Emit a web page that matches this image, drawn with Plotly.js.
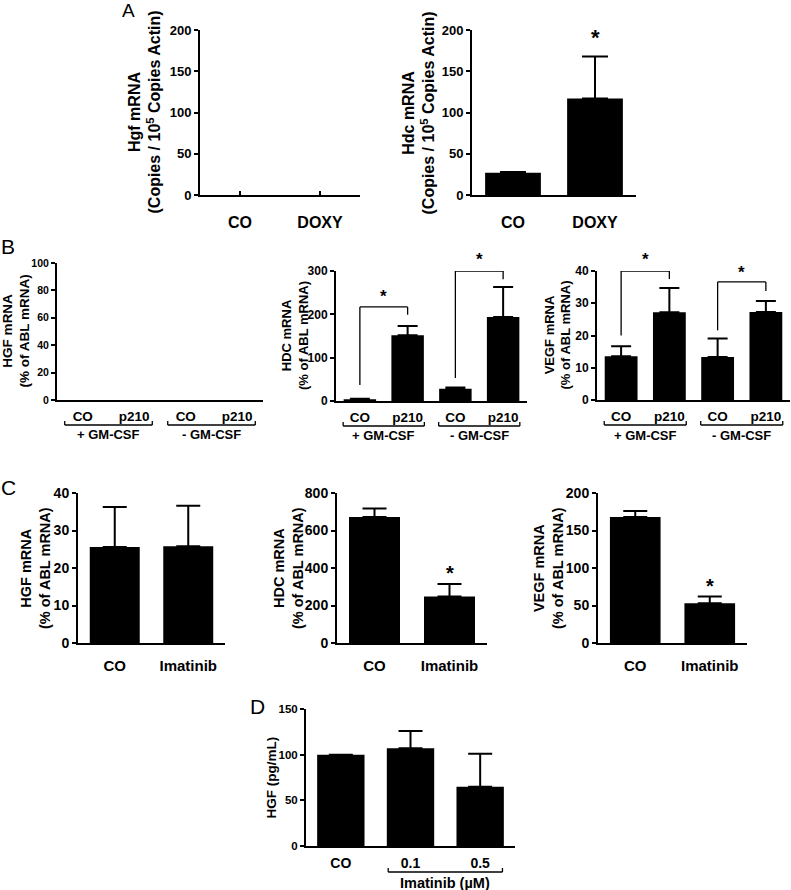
<!DOCTYPE html>
<html><head><meta charset="utf-8">
<script src="https://cdn.plot.ly/plotly-3.0.1.min.js"></script>
<style>html,body{margin:0;padding:0;background:#fff}#chart{width:791px;height:890px}</style>
</head><body><div id="chart"></div>
<script>
// ---- Panel A ----
const catsA = ["CO", "DOXY"];
const hgfA = [0, 0];
const hgfAErr = [0, 0];
const hdcA = [27, 117];
const hdcAErr = [28, 168];          // top of error bar
// ---- Panel B ----
const catsB = ["CO", "p210", "CO", "p210"];
const groupsB = ["+ GM-CSF", "- GM-CSF"];
const hgfB = [0, 0, 0, 0];
const hgfBErr = [0, 0, 0, 0];
const hdcB = [4, 152, 28, 194];
const hdcBErr = [5, 173, 31, 263];
const vegfB = [13.6, 27.2, 13.3, 27.3];
const vegfBErr = [16.7, 34.7, 19.1, 30.7];
// ---- Panel C ----
const catsC = ["CO", "Imatinib"];
const hgfC = [25.6, 25.8];
const hgfCErr = [36.3, 36.6];
const hdcC = [672, 248];
const hdcCErr = [717, 315];
const vegfC = [168, 53];
const vegfCErr = [176, 62];
// ---- Panel D ----
const catsD = ["CO", "0.1", "0.5"];
const groupD = "Imatinib (µM)";
const hgfD = [100, 107, 65];
const hgfDErr = [100, 126, 101];

const W = 791, H = 890;
const FONT = "Liberation Sans, Arial, Helvetica, sans-serif";
const px = v => v / W;
const py = v => 1 - v / H;

// panel definitions: pixel boxes [x0, x1, yTop, yBottom]
const panels = [
  {cats: catsA, vals: hgfA, err: hgfAErr, box: [200, 360, 30, 195], range: [0, 200], dtick: 50,
   title: "Hgf mRNA<br>(Copies / 10<sup>5</sup> Copies Actin)", tcx: 144, tfs: 16, tick: 13, xf: 16, xstand: 12, xticks: true},
  {cats: catsA, vals: hdcA, err: hdcAErr, box: [472, 636, 30, 195], range: [0, 200], dtick: 50,
   title: "Hdc mRNA<br>(Copies / 10<sup>5</sup> Copies Actin)", tcx: 418, tfs: 16, tick: 13, xf: 16, xstand: 12, xticks: true, ew: 13},
  {cats: catsB, vals: hgfB, err: hgfBErr, box: [57, 263, 263, 400], range: [0, 100], dtick: 20,
   title: "HGF mRNA<br>(% of ABL mRNA)", tcx: 16, tfs: 13.5, tick: 10.5, xf: 13.5, xstand: 3},
  {cats: catsB, vals: hdcB, err: hdcBErr, box: [336, 527, 271, 401], range: [0, 300], dtick: 100,
   title: "HDC mRNA<br>(% of ABL mRNA)", tcx: 295, tfs: 13, tick: 12, xf: 13.5, xstand: 3, ew: 10},
  {cats: catsB, vals: vegfB, err: vegfBErr, box: [597, 790, 271, 400], range: [0, 40], dtick: 10,
   title: "VEGF mRNA<br>(% of ABL mRNA)", tcx: 557, tfs: 13, tick: 12, xf: 13.5, xstand: 3, ew: 10},
  {cats: catsC, vals: hgfC, err: hgfCErr, box: [78, 225, 493, 643], range: [0, 40], dtick: 10,
   title: "HGF mRNA<br>(% of ABL mRNA)", tcx: 35, tfs: 14.5, tick: 14, xf: 15, xstand: 8, ew: 12},
  {cats: catsC, vals: hdcC, err: hdcCErr, box: [337, 487, 493, 643], range: [0, 800], dtick: 200,
   title: "HDC mRNA<br>(% of ABL mRNA)", tcx: 288, tfs: 14.5, tick: 14, xf: 15, xstand: 8, ew: 12},
  {cats: catsC, vals: vegfC, err: vegfCErr, box: [598, 747, 493, 643], range: [0, 200], dtick: 50,
   title: "VEGF mRNA<br>(% of ABL mRNA)", tcx: 548, tfs: 14.5, tick: 14, xf: 15, xstand: 8, ew: 12},
  {cats: catsD, vals: hgfD, err: hgfDErr, box: [306, 515, 709, 846], range: [0, 150], dtick: 50,
   title: "HGF (pg/mL)", tcx: 271, tfs: 13.5, tick: 11.5, xf: 14, xstand: 3, ew: 12}
];

const data = [];
const layout = {
  width: W, height: H, margin: {l: 0, r: 0, t: 0, b: 0},
  paper_bgcolor: "#fff", plot_bgcolor: "rgba(0,0,0,0)",
  showlegend: false,
  font: {family: FONT, color: "#000"},
  annotations: [], shapes: []
};

panels.forEach((p, i) => {
  const n = i + 1;
  const xa = n === 1 ? "x" : "x" + n, ya = n === 1 ? "y" : "y" + n;
  const xs = p.cats.map((c, k) => k);
  data.push({
    type: "bar", x: xs, y: p.vals, xaxis: xa, yaxis: ya, width: 0.68,
    marker: {color: "#000", line: {width: 0}},
    error_y: {type: "data", symmetric: false,
      array: p.err.map((e, k) => Math.max(0, e - p.vals[k])),
      arrayminus: p.vals.map(() => 0),
      color: "#000", thickness: 2, width: p.ew || 0, visible: p.vals.some(v => v > 0)},
    hoverinfo: "skip", cliponaxis: false
  });
  const [x0, x1, yt, yb] = p.box;
  layout["xaxis" + (n === 1 ? "" : n)] = {
    domain: [px(x0), px(x1)], anchor: ya, range: [-0.5, p.cats.length - 0.5],
    tickmode: "array", tickvals: xs, ticktext: p.cats,
    showline: true, linewidth: 2, linecolor: "#000", showgrid: false, zeroline: false,
    ticks: p.xticks ? "inside" : "", ticklen: 4, tickwidth: 2, tickcolor: "#000",
    ticklabelstandoff: p.xstand,
    tickfont: {family: FONT, size: p.xf, color: "#000", weight: "bold"},
    fixedrange: true
  };
  layout["yaxis" + (n === 1 ? "" : n)] = {
    domain: [py(yb), py(yt)], anchor: xa, range: p.range,
    tickmode: "linear", tick0: 0, dtick: p.dtick,
    showline: true, linewidth: 2, linecolor: "#000", showgrid: false, zeroline: false,
    ticks: "outside", ticklen: 4, tickwidth: 2, tickcolor: "#000",
    ticklabelstandoff: 0,
    tickfont: {family: FONT, size: p.tick, color: "#000", weight: "bold"},
    fixedrange: true
  };
  layout.annotations.push({
    xref: "paper", yref: "paper", x: px(p.tcx), y: py((yt + yb) / 2),
    text: p.title, textangle: -90, showarrow: false, xanchor: "center", yanchor: "middle",
    font: {family: FONT, size: p.tfs, color: "#000", weight: "bold"}
  });
});

// panel letters
[["A", 128, 10, 19], ["B", 8, 246, 21], ["C", 8, 487, 21], ["D", 257, 706, 21]].forEach(([t, x, y, s]) => {
  layout.annotations.push({xref: "paper", yref: "paper", x: px(x), y: py(y), text: t, showarrow: false,
    xanchor: "center", yanchor: "middle", font: {family: FONT, size: s, color: "#000"}});
});

// helpers
function dom(n, v) { const r = panels[n - 1].range; return (v - r[0]) / (r[1] - r[0]); }
function line(xa, ya, xx0, yy0, xx1, yy1) {
  layout.shapes.push({type: "line", xref: xa, yref: ya, x0: xx0, y0: yy0, x1: xx1, y1: yy1,
    line: {color: "#000", width: 1.3}});
}
function star(n, x, y, size) {
  layout.annotations.push({xref: "x" + n, yref: "y" + n + " domain", x: x, y: dom(n, y), text: "*", showarrow: false,
    xanchor: "center", yanchor: "middle", font: {family: FONT, size: size, color: "#000", weight: "bold"}});
}
function sig(n, xl, xr, yh, yl, yr, ys, size) {
  const xa = "x" + n, ya = "y" + n;
  line(xa, ya, xl, yl, xl, yh); line(xa, ya, xl, yh, xr, yh); line(xa, ya, xr, yh, xr, yr);
  star(n, (xl + xr) / 2, ys, size);
}
// group brackets under x axis (in y-domain units)
function groupBracket(xa, yd, xl, xr, yh, yend, label, ylab, fs) {
  line(xa, yd, xl, yend, xl, yh); line(xa, yd, xl, yh, xr, yh); line(xa, yd, xr, yh, xr, yend);
  layout.annotations.push({xref: xa, yref: yd, x: (xl + xr) / 2, y: ylab, text: label, showarrow: false,
    xanchor: "center", yanchor: "middle", font: {family: FONT, size: fs, color: "#000", weight: "bold"}});
}

// significance in A right
star(2, 1, 191, 22);
// B middle
sig(4, 0, 1, 217, 37, 199, 242, 17);
sig(4, 2, 3, 300, 53, 281, 326, 17);
// B right
sig(5, 0, 1, 40, 20, 37.5, 43.5, 17);
sig(5, 2, 3, 36.6, 21.6, 33.8, 39.5, 17);
// C
star(7, 1, 374, 20);
star(8, 1, 76, 20);

// group brackets B
[["x3", "y3 domain", 137], ["x4", "y4 domain", 130], ["x5", "y5 domain", 129]].forEach(([xa, yd, h]) => {
  const yh = -25 / h, ye = -21 / h, yl = -35 / h;
  groupBracket(xa, yd, -0.35, 1.35, yh, ye, groupsB[0], yl, 13);
  groupBracket(xa, yd, 1.65, 3.35, yh, ye, groupsB[1], yl, 13);
});
// group bracket D
groupBracket("x9", "y9 domain", 0.68, 2.32, -26 / 137, -22 / 137, groupD, -37 / 137, 14.5);

Plotly.newPlot("chart", data, layout, {staticPlot: true, displayModeBar: false});
</script>
</body></html>
